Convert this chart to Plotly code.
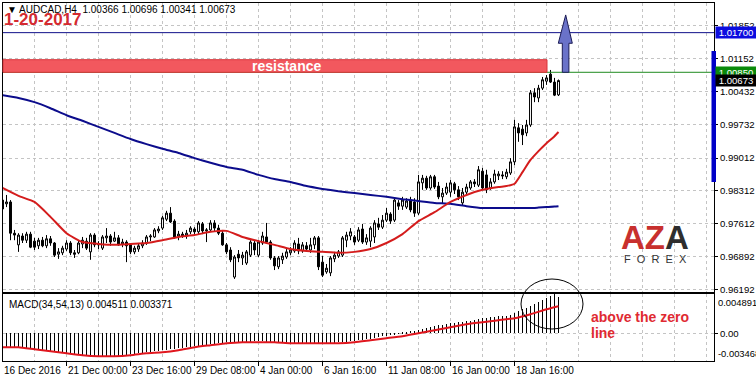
import plotly.graph_objects as go

# ---------------- data ----------------
date_idx = [0, 16, 32, 48, 64, 80, 96, 112, 128]
date_labels = ["16 Dec 2016", "21 Dec 00:00", "23 Dec 16:00", "29 Dec 08:00", "4 Jan 00:00",
               "6 Jan 16:00", "11 Jan 08:00", "16 Jan 00:00", "18 Jan 16:00"]

price_ticks = [1.01852, 1.01152, 1.00432, 0.99732, 0.99012, 0.98312, 0.97612, 0.96892, 0.96192]

open_ = [.9811, .9803, .9807, .9740, .9715, .9734, .9725, .9738, .9723, .9713, .9725, .9713, .9728, .9719, .9695, .9698,
         .9706, .9719, .9698, .9698, .9717, .9723, .9700, .9736, .9715, .9708, .9730, .9734, .9723, .9730, .9717, .9721,
         .9715, .9700, .9706, .9713, .9719, .9732, .9732, .9745, .9751, .9770, .9783, .9766, .9734, .9738, .9734, .9743,
         .9749, .9743, .9760, .9745, .9747, .9762, .9751, .9740, .9715, .9704, .9646, .9695, .9687, .9676, .9693, .9719,
         .9693, .9719, .9732, .9721, .9687, .9668, .9683, .9689, .9698, .9702, .9717, .9702, .9713, .9704, .9715, .9730,
         .9678, .9657, .9655, .9685, .9691, .9693, .9725, .9734, .9732, .9725, .9749, .9721, .9723, .9732, .9760, .9753,
         .9768, .9781, .9768, .9805, .9798, .9796, .9811, .9807, .9783, .9848, .9858, .9837, .9861, .9841, .9818, .9826,
         .9828, .9846, .9833, .9805, .9828, .9837, .9850, .9843, .9873, .9865, .9837, .9850, .9863, .9865, .9861, .9869,
         .9893, .9966, .9963, .9955, .9972, 1.0041, 1.0030, 1.0051, 1.0066, 1.0081, 1.0064, 1.00366]
high = [.9815, .9822, .9811, .9747, .9740, .9740, .9743, .9743, .9730, .9730, .9732, .9736, .9734, .9721, .9708, .9713,
        .9725, .9723, .9704, .9725, .9732, .9730, .9740, .9740, .9723, .9736, .9751, .9738, .9743, .9736, .9728, .9725,
        .9719, .9713, .9719, .9725, .9736, .9738, .9751, .9755, .9777, .9788, .9796, .9770, .9745, .9743, .9747, .9755,
        .9753, .9766, .9764, .9751, .9768, .9768, .9758, .9747, .9719, .9710, .9693, .9704, .9700, .9704, .9725, .9725,
        .9725, .9743, .9762, .9725, .9691, .9691, .9698, .9706, .9710, .9725, .9730, .9721, .9721, .9730, .9734, .9734,
        .9691, .9674, .9691, .9700, .9704, .9734, .9743, .9751, .9736, .9753, .9760, .9738, .9755, .9768, .9773, .9779,
        .9794, .9785, .9815, .9811, .9818, .9815, .9818, .9815, .9865, .9865, .9863, .9865, .9865, .9850, .9837, .9848,
        .9854, .9850, .9841, .9837, .9846, .9854, .9856, .9884, .9880, .9876, .9858, .9876, .9873, .9873, .9878, .9901,
        .9983, .9976, .9972, .9983, 1.0047, 1.0051, 1.0058, 1.0075, 1.0079, 1.0090, 1.0073, 1.00696]
low = [.9790, .9796, .9725, .9725, .9700, .9719, .9719, .9708, .9704, .9706, .9710, .9708, .9713, .9689, .9685, .9693,
       .9702, .9693, .9687, .9695, .9708, .9704, .9683, .9710, .9706, .9704, .9719, .9713, .9721, .9713, .9710, .9678,
       .9695, .9695, .9700, .9708, .9715, .9723, .9730, .9740, .9747, .9766, .9762, .9728, .9725, .9730, .9728, .9738,
       .9736, .9738, .9738, .9721, .9743, .9745, .9736, .9713, .9695, .9678, .9642, .9678, .9672, .9672, .9689, .9693,
       .9689, .9715, .9717, .9683, .9661, .9663, .9674, .9685, .9693, .9698, .9695, .9698, .9700, .9698, .9706, .9661,
       .9646, .9653, .9648, .9678, .9687, .9689, .9710, .9725, .9715, .9721, .9717, .9715, .9710, .9719, .9747, .9749,
       .9764, .9760, .9764, .9790, .9790, .9792, .9785, .9775, .9779, .9833, .9833, .9833, .9835, .9813, .9803, .9822,
       .9818, .9824, .9811, .9800, .9824, .9833, .9839, .9839, .9833, .9826, .9833, .9846, .9854, .9856, .9856, .9865,
       .9886, .9936, .9929, .9948, .9968, 1.0021, 1.0021, 1.0047, 1.0058, 1.0062, 1.0034, 1.00341]
close = [.9792, .9807, .9740, .9736, .9736, .9725, .9738, .9710, .9710, .9725, .9713, .9728, .9719, .9693, .9700, .9708,
         .9719, .9698, .9695, .9719, .9725, .9708, .9736, .9715, .9717, .9732, .9734, .9721, .9730, .9715, .9721, .9713,
         .9700, .9708, .9713, .9719, .9732, .9734, .9747, .9749, .9773, .9783, .9764, .9732, .9738, .9734, .9740, .9751,
         .9743, .9762, .9745, .9747, .9762, .9751, .9740, .9715, .9700, .9683, .9689, .9687, .9693, .9700, .9721, .9704,
         .9721, .9734, .9721, .9687, .9670, .9687, .9691, .9700, .9704, .9719, .9702, .9715, .9706, .9715, .9730, .9668,
         .9650, .9665, .9687, .9693, .9700, .9730, .9736, .9743, .9721, .9747, .9721, .9730, .9751, .9762, .9753, .9768,
         .9783, .9766, .9811, .9798, .9811, .9809, .9790, .9783, .9850, .9858, .9837, .9861, .9839, .9818, .9826, .9839,
         .9848, .9833, .9818, .9828, .9839, .9850, .9846, .9876, .9837, .9833, .9850, .9867, .9867, .9863, .9871, .9893,
         .9968, .9955, .9951, .9972, 1.0041, 1.0032, 1.0051, 1.0069, 1.0073, 1.0064, 1.0036, 1.00673]
bars = list(range(len(close)))

ma_idx = [0, 4, 8, 12, 16, 20, 24, 28, 32, 36, 40, 44, 48, 52, 56, 60, 64, 68, 72, 76, 80, 84, 88, 92, 96,
          100, 104, 108, 112, 116, 120, 124, 126, 128, 130, 132, 134, 136, 138, 139]
ma_fast = [.9837, .9820, .9807, .9775, .9740, .9721, .9717, .9715, .9717, .9719, .9725, .9732, .9736, .9743, .9745,
           .9732, .9723, .9715, .9706, .9702, .9700, .9698, .9700, .9706, .9719, .9738, .9766, .9785, .9807, .9822,
           .9833, .9839, .9841, .9846, .9871, .9897, .9916, .9933, .9948, .9957]
ma_slow = [1.0036, 1.0030, 1.0021, 1.0008, .9993, .9981, .9968, .9955, .9942, .9931, .9921, .9912, .9901, .9891, .9882,
           .9876, .9865, .9856, .9850, .9841, .9835, .9830, .9826, .9822, .9818, .9813, .9809, .9805, .9803, .9798,
           .9794, .9794, .9794, .9794, .9794, .9794, .9795, .9796, .9797, .9798]

macd_main = [-0.00175, -0.00175, -0.00175, -0.00187, -0.00187, -0.00187, -0.00187, -0.00200, -0.00200, -0.00212,
             -0.00212, -0.00225, -0.00237, -0.00237, -0.00250, -0.00250, -0.00262, -0.00262, -0.00274, -0.00274,
             -0.00287, -0.00287, -0.00287, -0.00299, -0.00299, -0.00299, -0.00299, -0.00299, -0.00287, -0.00287,
             -0.00287, -0.00274, -0.00262, -0.00262, -0.00250, -0.00250, -0.00237, -0.00237, -0.00225, -0.00225,
             -0.00212, -0.00212, -0.00200, -0.00200, -0.00187, -0.00187, -0.00175, -0.00175, -0.00162, -0.00162,
             -0.00150, -0.00150, -0.00137, -0.00137, -0.00125, -0.00125, -0.00112, -0.00112, -0.00112, -0.00125,
             -0.00125, -0.00112, -0.00112, -0.00100, -0.00100, -0.00100, -0.00112, -0.00112, -0.00112, -0.00112,
             -0.00125, -0.00125, -0.00125, -0.00125, -0.00125, -0.00137, -0.00137, -0.00137, -0.00125, -0.00125,
             -0.00137, -0.00137, -0.00125, -0.00125, -0.00112, -0.00112, -0.00112, -0.00100, -0.00100, -0.00087,
             -0.00087, -0.00075, -0.00075, -0.00062, -0.00050, -0.00037, -0.00037, -0.00025, -0.00012, 0.00002,
             0.00003, 0.00012, 0.00025, 0.00025, 0.00037, 0.00050, 0.00062, 0.00075, 0.00087, 0.00100,
             0.00100, 0.00112, 0.00125, 0.00125, 0.00137, 0.00137, 0.00150, 0.00150, 0.00162, 0.00175,
             0.00187, 0.00187, 0.00200, 0.00200, 0.00212, 0.00212, 0.00212, 0.00225, 0.00250, 0.00274,
             0.00299, 0.00312, 0.00337, 0.00362, 0.00387, 0.00412, 0.00437, 0.00462, 0.004891, 0.004511]
sig_idx = [0, 4, 8, 12, 16, 20, 24, 28, 32, 36, 40, 44, 48, 52, 56, 60, 64, 68, 72, 76, 80, 84, 88, 92, 96,
           100, 104, 108, 112, 116, 120, 124, 128, 132, 136, 139]
macd_signal = [-0.00175, -0.00175, -0.00200, -0.00225, -0.00250, -0.00274, -0.00287, -0.00287, -0.00274, -0.00250,
               -0.00237, -0.00212, -0.00175, -0.00150, -0.00125, -0.00112, -0.00112, -0.00112, -0.00125, -0.00125,
               -0.00125, -0.00125, -0.00112, -0.00087, -0.00062, -0.00037, 0.0, 0.00037, 0.00075, 0.00112,
               0.00137, 0.00162, 0.00187, 0.00237, 0.00299, 0.003371]

resist_top = 1.0112
level_green = 1.00850
level_blue = 1.01700
last_close = 1.00673
macd_min, macd_max = -0.003468, 0.004891

# ---------------- figure ----------------
W, H = 756, 382
ML, MR, MT, MB = 3, 42, 3, 21
PW, PH = W - ML - MR, H - MT - MB


def px(xp):
    return (xp - ML) / PW


def py(yp):
    return (H - MB - yp) / PH


def bx(i):
    return px(2.5 + 4 * i)


GRID = "#c4c4c4"
FONT = "Liberation Sans"

fig = go.Figure()
fig.add_trace(go.Candlestick(
    x=bars, open=open_, high=high, low=low, close=close,
    increasing=dict(line=dict(color="black", width=1), fillcolor="white"),
    decreasing=dict(line=dict(color="black", width=1), fillcolor="black"),
    whiskerwidth=0, xaxis="x", yaxis="y", showlegend=False, hoverinfo="skip"))
fig.add_trace(go.Scatter(x=ma_idx, y=ma_slow, mode="lines", line=dict(color="#0c0c8c", width=2, shape="spline", smoothing=0.5),
                         xaxis="x", yaxis="y", showlegend=False, hoverinfo="skip"))
fig.add_trace(go.Scatter(x=ma_idx, y=ma_fast, mode="lines", line=dict(color="#d41c1c", width=2, shape="spline", smoothing=0.5),
                         xaxis="x", yaxis="y", showlegend=False, hoverinfo="skip"))
fig.add_trace(go.Bar(x=bars, y=macd_main, width=0.25, marker=dict(color="black", line=dict(width=0)),
                     xaxis="x2", yaxis="y2", showlegend=False, hoverinfo="skip"))
fig.add_trace(go.Scatter(x=sig_idx, y=macd_signal, mode="lines", line=dict(color="#e0161e", width=2, shape="spline", smoothing=0.5),
                         xaxis="x2", yaxis="y2", showlegend=False, hoverinfo="skip"))

xr = [(ML - 2.5) / 4, (W - MR - 2.5) / 4]
main_bot = 292
macd_top = 294
y_lo = 1.0240 - 0.0002144 * main_bot
y_hi = 1.0240 - 0.0002144 * 3

fig.update_layout(
    template="none",
    width=W, height=H, margin=dict(l=ML, r=MR, t=MT, b=MB, autoexpand=False),
    paper_bgcolor="white", plot_bgcolor="white",
    font=dict(family=FONT, size=10, color="black"),
    showlegend=False, bargap=0,
    xaxis=dict(domain=[0, 1], anchor="y", range=xr, showticklabels=False, ticks="",
               tick0=0, dtick=8, showgrid=True, gridcolor=GRID, griddash="3px,3px", gridwidth=1,
               showline=True, linecolor="black", linewidth=1, mirror=True, zeroline=False,
               rangeslider=dict(visible=False), matches="x2", automargin=False),
    yaxis=dict(domain=[py(main_bot), 1], anchor="x", range=[y_lo, y_hi], side="right",
               tickmode="array", tickvals=price_ticks, ticktext=[f"{v:.5f}" for v in price_ticks],
               ticks="outside", ticklen=3, tickcolor="black", tickfont=dict(size=9.6, family=FONT),
               showgrid=True, gridcolor=GRID, griddash="3px,3px", gridwidth=1, automargin=False,
               showline=True, linecolor="black", linewidth=1, mirror=True, zeroline=False),
    xaxis2=dict(domain=[0, 1], anchor="y2", range=xr, showticklabels=False,
                tickmode="array", tickvals=date_idx, ticks="outside", ticklen=4, tickcolor="black",
                showgrid=True, gridcolor=GRID, griddash="3px,3px", gridwidth=1, automargin=False,
                minor=dict(tickmode="linear", tick0=0, dtick=8, showgrid=True, gridcolor=GRID,
                           griddash="3px,3px", ticks=""),
                showline=True, linecolor="black", linewidth=1, mirror=True, zeroline=False),
    yaxis2=dict(domain=[0, py(macd_top)], anchor="x2", range=[macd_min, macd_max], side="right",
                tickmode="array", tickvals=[0], ticktext=["0.00"], ticks="outside", ticklen=3,
                tickcolor="black", tickfont=dict(size=9.6, family=FONT), automargin=False,
                showgrid=True, gridcolor=GRID, griddash="3px,3px",
                showline=True, linecolor="black", linewidth=1, mirror=True, zeroline=False),
)

shapes = []
shapes.append(dict(type="line", xref="paper", yref="y", x0=0, x1=1, y0=level_blue, y1=level_blue,
                   line=dict(color="#10108a", width=1), layer="above"))
shapes.append(dict(type="line", xref="paper", yref="y", x0=0, x1=1, y0=level_green, y1=level_green,
                   line=dict(color="#1f8a1f", width=1), layer="above"))
shapes.append(dict(type="rect", xref="paper", yref="y", x0=0, x1=px(547), y0=level_green, y1=resist_top,
                   fillcolor="#f2585e", line=dict(color="#d8343a", width=1), layer="above"))
ax0, ax1, hx0, hx1, tx = 139.95, 141.6, 138.95, 142.45, 140.8
yb, yh, yt = level_green, 1.01472, 1.0208
shapes.append(dict(type="path", xref="x", yref="y",
                   path=f"M {ax0},{yb} L {ax0},{yh} L {hx0},{yh} L {tx},{yt} L {hx1},{yh} L {ax1},{yh} L {ax1},{yb} Z",
                   fillcolor="#6a72c9", line=dict(color="#1c1c55", width=1), layer="above"))
shapes.append(dict(type="rect", xref="paper", yref="y", x0=px(711.5), x1=px(716), y0=0.98498, y1=1.01307,
                   fillcolor="#0000c8", line=dict(width=0), layer="above"))
shapes.append(dict(type="circle", xref="paper", yref="paper", x0=px(521), x1=px(583), y0=py(329), y1=py(279),
                   line=dict(color="black", width=1), layer="above"))
fig.update_layout(shapes=shapes)

ann = []
ann.append(dict(xref="paper", yref="paper", x=px(5), y=py(10), xanchor="left", yanchor="middle", showarrow=False,
                text="▼ AUDCAD,H4\u00a0\u00a01.00366 1.00696 1.00341 1.00673", font=dict(size=10, color="black")))
ann.append(dict(xref="paper", yref="paper", x=px(2), y=py(20), xanchor="left", yanchor="middle", showarrow=False,
                text="<b>1-20-2017</b>", font=dict(size=17, color="#d42a30")))
ann.append(dict(xref="x", yref="y", x=71.1, y=(level_green + resist_top) / 2, xanchor="center", yanchor="middle",
                showarrow=False, text="<b>resistance</b>", font=dict(size=14, color="white")))
for val, bg in [(level_blue, "#0c0ce0"), (level_green, "#0a8a0a"), (last_close, "black")]:
    ann.append(dict(xref="paper", yref="y", x=1, y=val, xanchor="left", yanchor="middle", xshift=1,
                    showarrow=False, text=f"{val:.5f}", bgcolor=bg, borderpad=0, height=11, width=40,
                    font=dict(size=9.6, color="white")))
ann.append(dict(xref="paper", yref="paper", x=px(7), y=py(304), xanchor="left", yanchor="middle", showarrow=False,
                text="MACD(34,54,13) 0.004511 0.003371", font=dict(size=10, color="black")))
ann.append(dict(xref="paper", yref="paper", x=1, y=py(302), xanchor="left", yanchor="middle", xshift=2,
                showarrow=False, text=f"{macd_max:.6f}", font=dict(size=9.4, color="black")))
ann.append(dict(xref="paper", yref="paper", x=1, y=py(353), xanchor="left", yanchor="middle", xshift=2,
                showarrow=False, text=f"{macd_min:.6f}", font=dict(size=9.4, color="black")))
ann.append(dict(xref="paper", yref="paper", x=px(589), y=py(317), xanchor="left", yanchor="middle", showarrow=False,
                text="<b>above the zero</b>", font=dict(size=14, color="#e02a32")))
ann.append(dict(xref="paper", yref="paper", x=px(589), y=py(333), xanchor="left", yanchor="middle", showarrow=False,
                text="<b>line</b>", font=dict(size=14, color="#e02a32")))
for i, lab in zip(date_idx, date_labels):
    ann.append(dict(xref="paper", yref="paper", x=bx(i), y=0, xanchor="left", yanchor="top", yshift=-2, xshift=-1,
                    showarrow=False, text=lab, font=dict(size=10, color="black")))
ann.append(dict(xref="paper", yref="paper", x=px(655), y=py(237), xanchor="center", yanchor="middle", showarrow=False,
                text="<b><span style='color:#c8302e'>AZ</span><span style='color:#2e2e2e'>A</span></b>",
                font=dict(size=33, family=FONT)))
ann.append(dict(xref="paper", yref="paper", x=px(655), y=py(259), xanchor="center", yanchor="middle", showarrow=False,
                text="F\u00a0\u00a0O\u00a0\u00a0R\u00a0\u00a0E\u00a0\u00a0X", font=dict(size=11, color="#333333")))
fig.update_layout(annotations=ann)

fig.write_html("out.html", config={"displayModeBar": False},
               post_script="document.body.style.margin='0';document.body.style.padding='0';")
